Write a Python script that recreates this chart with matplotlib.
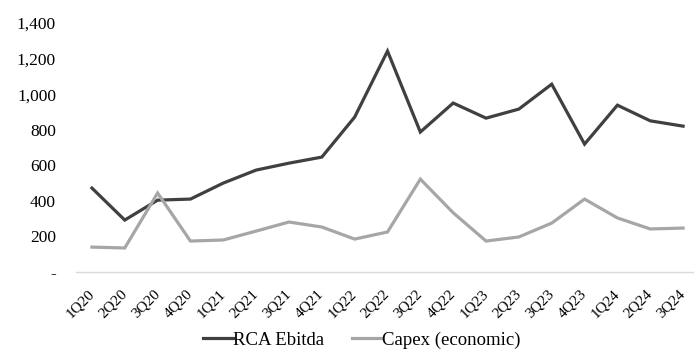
import matplotlib
matplotlib.use("Agg")
import matplotlib.pyplot as plt
from matplotlib.ticker import FuncFormatter

quarters = ["1Q20", "2Q20", "3Q20", "4Q20", "1Q21", "2Q21", "3Q21", "4Q21",
            "1Q22", "2Q22", "3Q22", "4Q22", "1Q23", "2Q23", "3Q23", "4Q23",
            "1Q24", "2Q24", "3Q24"]
rca_ebitda = [472, 292, 404, 410, 500, 573, 612, 646,
              871, 1242, 787, 950, 865, 916, 1056, 719,
              938, 850, 820]
capex_economic = [140, 135, 444, 174, 180, 230, 281, 253,
                  185, 225, 522, 333, 174, 197, 275, 410,
                  304, 242, 247]
y_ticks = [0, 200, 400, 600, 800, 1000, 1200, 1400]

plt.rcParams["font.family"] = ["Liberation Serif", "DejaVu Serif"]

W, H = 694, 352
fig = plt.figure(figsize=(W / 100, H / 100), dpi=100)
left, right, bottom, top = 75.5, 699.5, 272, 23
ax = fig.add_axes([left / W, (H - bottom) / H, (right - left) / W, (bottom - top) / H])

x = list(range(len(quarters)))
ax.plot(x, rca_ebitda, color="#404040", lw=2.3, label="RCA Ebitda",
        solid_joinstyle="miter", clip_on=False)
ax.plot(x, capex_economic, color="#A6A6A6", lw=2.3, label="Capex (economic)",
        solid_joinstyle="miter", clip_on=False)

ax.set_xlim(-0.5, len(quarters) - 0.5)
ax.set_ylim(0, 1400)
ax.set_yticks(y_ticks)
ax.yaxis.set_major_formatter(FuncFormatter(lambda v, p: "-" if v == 0 else f"{int(v):,}"))
ax.set_xticks(x)
ax.set_xticklabels(quarters, rotation=45, ha="right", va="center",
                   rotation_mode="anchor", fontsize=11)

for s in ("top", "right", "left"):
    ax.spines[s].set_visible(False)
ax.spines["bottom"].set_color("#D9D9D9")
ax.spines["bottom"].set_linewidth(1.0)
ax.tick_params(axis="both", length=0)
ax.tick_params(axis="y", pad=14, labelsize=12.5)
ax.tick_params(axis="x", pad=14)

fig.legend(loc="center", bbox_to_anchor=(362 / W, (H - 340) / H), ncol=2,
           frameon=False, fontsize=13.5, handlelength=1.6, handletextpad=0.0,
           columnspacing=1.5)

fig.savefig("out.png", dpi=100)
